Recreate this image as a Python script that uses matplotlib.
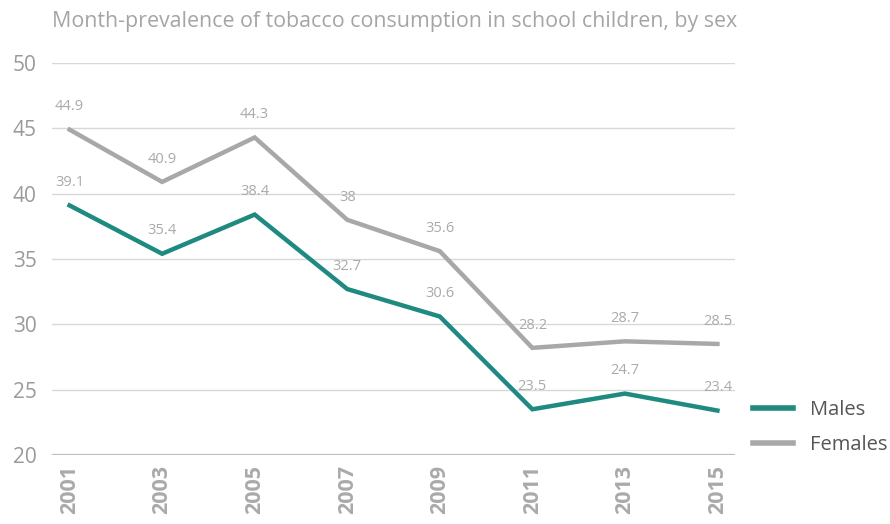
import matplotlib
matplotlib.use("Agg")
import matplotlib.pyplot as plt

years = ["2001", "2003", "2005", "2007", "2009", "2011", "2013", "2015"]
males = [39.1, 35.4, 38.4, 32.7, 30.6, 23.5, 24.7, 23.4]
females = [44.9, 40.9, 44.3, 38.0, 35.6, 28.2, 28.7, 28.5]
yticks = [20, 25, 30, 35, 40, 45, 50]
title = "Month-prevalence of tobacco consumption in school children, by sex"

plt.rcParams['font.family'] = ['Open Sans', 'DejaVu Sans']

fig = plt.figure(figsize=(8.9, 5.24), dpi=100)
ax = fig.add_axes([52 / 890, 69 / 524, 683 / 890, 392 / 524])

teal = "#1e8a80"
grey = "#a8a8ab"
x = list(range(len(years)))

ax.plot(x, males, color=teal, lw=3.2, label="Males", solid_joinstyle="miter", zorder=3)
ax.plot(x, females, color=grey, lw=3.2, label="Females", solid_joinstyle="miter", zorder=3)

def fmt(v):
    return f"{v:g}"

for xi, v in zip(x, males):
    ax.annotate(fmt(v), (xi, v), xytext=(0, 11), textcoords="offset points",
                ha="center", va="bottom", fontsize=10.5, color="#aaaaaa")
for xi, v in zip(x, females):
    ax.annotate(fmt(v), (xi, v), xytext=(0, 11), textcoords="offset points",
                ha="center", va="bottom", fontsize=10.5, color="#aaaaaa")

ax.set_xlim(-0.19, len(years) - 1 + 0.19)
ax.set_ylim(20, 50)
ax.set_yticks(yticks)
ax.set_yticklabels([str(t) for t in yticks], fontsize=15, color="#9a9a9a")
ax.set_xticks(x)
ax.set_xticklabels(years, rotation=90, fontsize=15.5, fontweight="bold", color="#aaaaaa")
ax.tick_params(axis="both", length=0)
ax.tick_params(axis="y", pad=11)
ax.tick_params(axis="x", pad=7)

for t in yticks[1:]:
    ax.axhline(t, color="#d8d8d8", lw=1, zorder=1)
ax.axhline(20, color="#bdbdbd", lw=1.6, zorder=1)

for s in ax.spines.values():
    s.set_visible(False)

fig.text(52 / 890, 1 - 22 / 524, title, fontsize=15.4, color="#a5a5a5",
         ha="left", va="center")

leg = ax.legend(loc="center left", bbox_to_anchor=(1.0, 0.07), frameon=False,
                fontsize=14.5, handlelength=2.0, labelspacing=0.75, handletextpad=0.8)
for t in leg.get_texts():
    t.set_color("#555555")
for h in leg.get_lines():
    h.set_linewidth(4)

fig.savefig("out.png", dpi=100)
